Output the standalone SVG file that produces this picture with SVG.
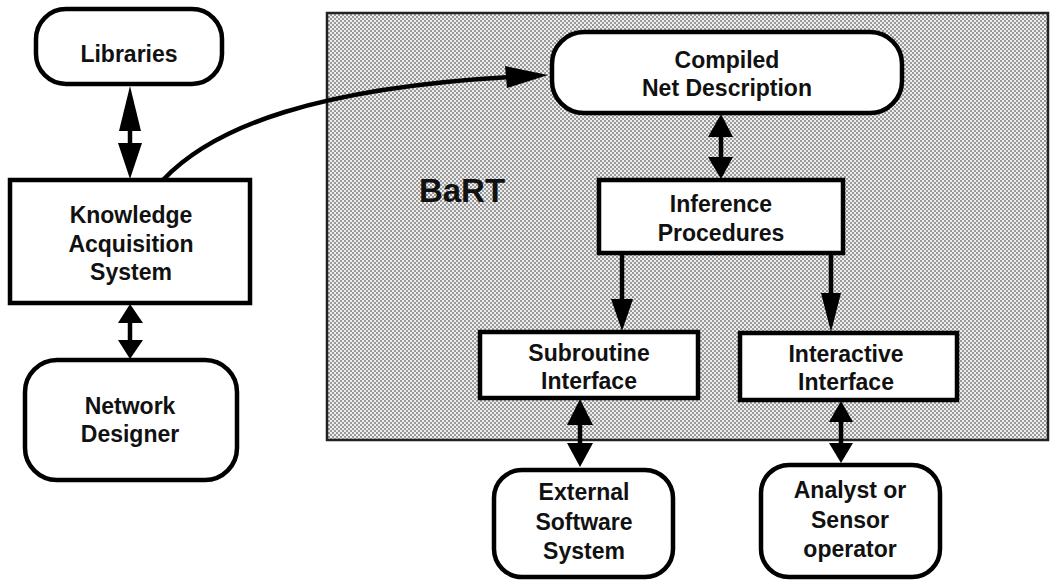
<svg xmlns="http://www.w3.org/2000/svg" width="1050" height="580" viewBox="0 0 1050 580">
<style>
.box{fill:#fff;stroke:#000;stroke-width:4.5}
.t{font-family:"Liberation Sans",Arial,sans-serif;font-weight:bold;font-size:23px;fill:#111;text-anchor:middle}
.shaft{stroke:#000;stroke-width:4.5;fill:none}
.head{fill:#000}
</style>
<defs>
<pattern id="dots" width="4" height="4" patternUnits="userSpaceOnUse">
<rect width="4" height="4" fill="#eeeeee"/>
<rect x="0" y="0" width="2" height="2" fill="#9a9a9a"/>
<rect x="2" y="2" width="2" height="2" fill="#9a9a9a"/>
</pattern>
</defs>
<rect width="1050" height="580" fill="#fff"/>
<g id="bart">
<rect x="327" y="13" width="721" height="427" fill="url(#dots)" stroke="#222" stroke-width="2.5"/>
<text x="462" y="202" style="font-family:'Liberation Sans',Arial,sans-serif;font-weight:bold;font-size:33px;fill:#111;text-anchor:middle">BaRT</text>
</g>
<g id="connectors">
<path class="shaft" d="M130,100 V170"/>
<polygon class="head" points="130,86 119,131 141,131"/>
<polygon class="head" points="130,179 118,143 142,143"/>
<path class="shaft" d="M130,315 V350"/>
<polygon class="head" points="130,304 118,323 143,323"/>
<polygon class="head" points="130,359 118,340 143,340"/>
<path class="shaft" d="M163,180 C215,125 320,88 510,77" stroke-width="5"/>
<polygon class="head" points="548,75 505,66 507,88"/>
<path class="shaft" d="M721,125 V170"/>
<polygon class="head" points="721,114 708,137 733,137"/>
<polygon class="head" points="721,179 708,157 733,157"/>
<path class="shaft" d="M622,253 V305"/>
<polygon class="head" points="622,331 611,299 633,299"/>
<path class="shaft" d="M831,253 V300"/>
<polygon class="head" points="831,332 821,293 841,293"/>
<path class="shaft" d="M580,410 V455"/>
<polygon class="head" points="580,399 567,425 593,425"/>
<polygon class="head" points="580,467 567,443 593,443"/>
<path class="shaft" d="M841,410 V455"/>
<polygon class="head" points="841,401 829,422 853,422"/>
<polygon class="head" points="841,463 829,443 853,443"/>
</g>
<g id="libraries">
<rect class="box" x="36" y="9" width="186" height="75" rx="30"/>
<text class="t" x="129" y="62">Libraries</text>
</g>
<g id="kas">
<rect class="box" x="10" y="180" width="240" height="123"/>
<text class="t" x="131" y="223">Knowledge</text>
<text class="t" x="131" y="252">Acquisition</text>
<text class="t" x="131" y="280">System</text>
</g>
<g id="designer">
<rect class="box" x="25" y="360" width="212" height="120" rx="32"/>
<text class="t" x="130" y="414">Network</text>
<text class="t" x="130" y="442">Designer</text>
</g>
<g id="compiled">
<rect class="box" x="552" y="32" width="350" height="81" rx="32"/>
<text class="t" x="727" y="68">Compiled</text>
<text class="t" x="727" y="96">Net Description</text>
</g>
<g id="inference">
<rect class="box" x="599" y="180" width="244" height="73"/>
<text class="t" x="721" y="212">Inference</text>
<text class="t" x="721" y="241">Procedures</text>
</g>
<g id="subroutine">
<rect class="box" x="480" y="332" width="218" height="66"/>
<text class="t" x="589" y="361">Subroutine</text>
<text class="t" x="589" y="389">Interface</text>
</g>
<g id="interactive">
<rect class="box" x="740" y="333" width="217" height="67"/>
<text class="t" x="846" y="362">Interactive</text>
<text class="t" x="846" y="390">Interface</text>
</g>
<g id="external">
<rect class="box" x="494" y="470" width="179" height="107" rx="28"/>
<text class="t" x="584" y="500">External</text>
<text class="t" x="584" y="530">Software</text>
<text class="t" x="584" y="559">System</text>
</g>
<g id="analyst">
<rect class="box" x="761" y="465" width="179" height="112" rx="28"/>
<text class="t" x="850" y="498">Analyst or</text>
<text class="t" x="850" y="528">Sensor</text>
<text class="t" x="850" y="557">operator</text>
</g>
</svg>
